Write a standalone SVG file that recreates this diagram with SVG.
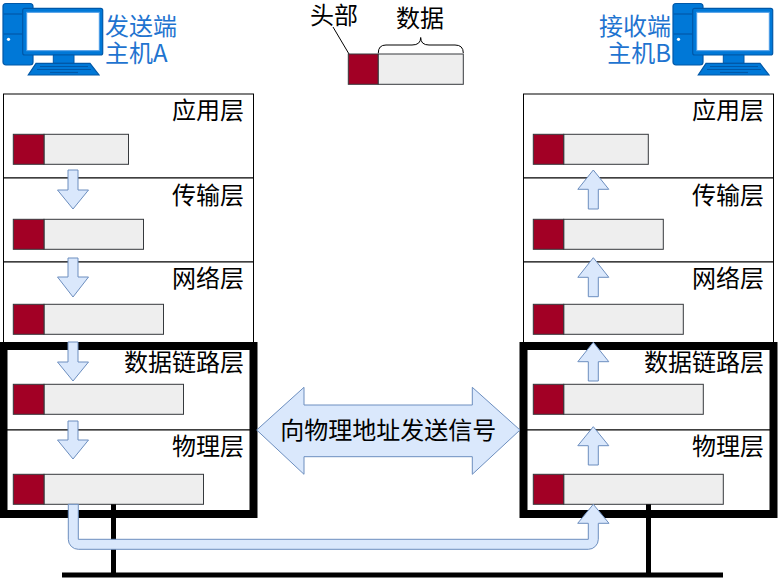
<svg xmlns="http://www.w3.org/2000/svg" xmlns:xlink="http://www.w3.org/1999/xlink" width="779" height="578" viewBox="0 0 779 578">
<style>
text{font-family:"Noto Sans CJK SC","Liberation Sans",sans-serif;font-size:24px;fill:#000}
.host{fill:#1f74d0}
.layer{fill:#fff;stroke:#000;stroke-width:1}
.frame{fill:none;stroke:#000;stroke-width:8}
.hd{fill:#a20025;stroke:#36393d;stroke-width:1}
.bd{fill:#eeeeee;stroke:#36393d;stroke-width:1}
.arr{fill:#dae8fc;stroke:#6c8ebf;stroke-width:1}
.bus{stroke:#000;stroke-width:5;fill:none}
.lbl{text-anchor:end}
</style>
<defs>
<g id="pc">
<rect x="3" y="3.5" width="30" height="61.5" rx="3" fill="#0078d7" stroke="#0058a8" stroke-width="1.2"/>
<line x1="3.5" y1="14" x2="22.5" y2="14" stroke="#0058a8" stroke-width="1.2"/>
<line x1="3.5" y1="34" x2="22.5" y2="34" stroke="#0058a8" stroke-width="1.2"/>
<circle cx="8.5" cy="39.3" r="1.6" fill="#fff"/>
<rect x="22.7" y="8.3" width="80" height="46.7" rx="2" fill="#0078d7" stroke="#0058a8" stroke-width="1.2"/>
<rect x="26.7" y="12.3" width="72.6" height="38.4" fill="#fff" stroke="#4a9be6" stroke-width="1"/>
<rect x="53.3" y="55" width="20.7" height="8.3" fill="#0078d7" stroke="#0058a8" stroke-width="1"/>
<polygon points="36,63.3 90,63.3 99,75 28.3,75" fill="#0078d7" stroke="#0058a8" stroke-width="1.2"/>
<line x1="40" y1="66.5" x2="88" y2="66.5" stroke="#0058a8" stroke-width="1.2"/>
<line x1="37" y1="69.5" x2="91" y2="69.5" stroke="#0058a8" stroke-width="1.2"/>
<line x1="50" y1="72.5" x2="78" y2="72.5" stroke="#0058a8" stroke-width="1.2"/>
</g>
</defs>

<g id="hostA">
<use xlink:href="#pc"/>
<text class="host" x="105" y="34.5">发送端</text>
<text class="host" x="105" y="62">主机A</text>
</g>
<g id="hostB">
<use xlink:href="#pc" transform="translate(670,0)"/>
<text class="host" x="671" y="34.5" text-anchor="end">接收端</text>
<text class="host" x="671" y="62" text-anchor="end">主机B</text>
</g>

<g id="legend">
<text x="310" y="24">头部</text>
<text x="420" y="27" text-anchor="middle">数据</text>
<line x1="333" y1="27" x2="349" y2="54" stroke="#000" stroke-width="1"/>
<path d="M378.3,53 Q378.3,45 386,45 L412,45 Q420.7,45 420.7,37.5 Q420.7,45 429,45 L455,45 Q463.3,45 463.3,53" fill="none" stroke="#000" stroke-width="1"/>
<rect class="hd" x="348.3" y="54" width="30" height="30.3"/>
<rect class="bd" x="378.3" y="54" width="85" height="30.3"/>
</g>

<g id="stackA">
<g id="a-app"><rect class="layer" x="3.5" y="94" width="250" height="84"/><text class="lbl" x="244" y="119">应用层</text></g>
<g id="a-tr"><rect class="layer" x="3.5" y="178" width="250" height="84"/><text class="lbl" x="244" y="204">传输层</text></g>
<g id="a-net"><rect class="layer" x="3.5" y="262" width="250" height="84"/><text class="lbl" x="244" y="287">网络层</text></g>
<g id="a-dl"><rect class="layer" x="3.5" y="346" width="250" height="84"/><text class="lbl" x="244" y="371">数据链路层</text></g>
<g id="a-ph"><rect class="layer" x="3.5" y="430" width="250" height="84"/><text class="lbl" x="244" y="455">物理层</text></g>
<rect class="frame" x="3.5" y="346" width="250" height="168"/>
<rect class="bd" x="44" y="134.3" width="84.5" height="30"/><rect class="hd" x="13.3" y="134.3" width="30.7" height="30"/>
<rect class="bd" x="44" y="219.3" width="99.5" height="30"/><rect class="hd" x="13.3" y="219.3" width="30.7" height="30"/>
<rect class="bd" x="44" y="304.3" width="119.5" height="30"/><rect class="hd" x="13.3" y="304.3" width="30.7" height="30"/>
<rect class="bd" x="44" y="384.3" width="139.5" height="30"/><rect class="hd" x="13.3" y="384.3" width="30.7" height="30"/>
<rect class="bd" x="44" y="474.3" width="159.5" height="30"/><rect class="hd" x="13.3" y="474.3" width="30.7" height="30"/>
</g>

<g id="stackB">
<g id="b-app"><rect class="layer" x="523.5" y="94" width="250" height="84"/><text class="lbl" x="764" y="119">应用层</text></g>
<g id="b-tr"><rect class="layer" x="523.5" y="178" width="250" height="84"/><text class="lbl" x="764" y="204">传输层</text></g>
<g id="b-net"><rect class="layer" x="523.5" y="262" width="250" height="84"/><text class="lbl" x="764" y="287">网络层</text></g>
<g id="b-dl"><rect class="layer" x="523.5" y="346" width="250" height="84"/><text class="lbl" x="764" y="371">数据链路层</text></g>
<g id="b-ph"><rect class="layer" x="523.5" y="430" width="250" height="84"/><text class="lbl" x="764" y="455">物理层</text></g>
<rect class="frame" x="523.5" y="346" width="250" height="168"/>
<rect class="bd" x="563.7" y="134.3" width="84.6" height="30"/><rect class="hd" x="533.3" y="134.3" width="30.4" height="30"/>
<rect class="bd" x="563.7" y="219.3" width="99.6" height="30"/><rect class="hd" x="533.3" y="219.3" width="30.4" height="30"/>
<rect class="bd" x="563.7" y="304.3" width="119.6" height="30"/><rect class="hd" x="533.3" y="304.3" width="30.4" height="30"/>
<rect class="bd" x="563.7" y="384.3" width="139.6" height="30"/><rect class="hd" x="533.3" y="384.3" width="30.4" height="30"/>
<rect class="bd" x="563.7" y="474.3" width="159.6" height="30"/><rect class="hd" x="533.3" y="474.3" width="30.4" height="30"/>
</g>

<g id="connectors">
<line class="bus" x1="62" y1="575" x2="723" y2="575"/>
<line class="bus" x1="113.5" y1="504.3" x2="113.5" y2="575"/>
<line class="bus" x1="648.5" y1="504.3" x2="648.5" y2="575"/>
<path class="arr" d="M68,170 H78 V190 H88.5 L73,209 L57.5,190 H68 Z"/>
<path class="arr" d="M68,258 H78 V277 H88.5 L73,297 L57.5,277 H68 Z"/>
<path class="arr" d="M68,342 H78 V362 H88.5 L73,381 L57.5,362 H68 Z"/>
<path class="arr" d="M68,421 H78 V440 H88.5 L73,459 L57.5,440 H68 Z"/>
<path class="arr" d="M593.3,170 L608.8,189.3 H598.3 V209 H588.3 V189.3 H577.8 Z"/>
<path class="arr" d="M593.3,257.7 L608.8,277.3 H598.3 V296.7 H588.3 V277.3 H577.8 Z"/>
<path class="arr" d="M593.3,342.3 L608.8,361.7 H598.3 V381 H588.3 V361.7 H577.8 Z"/>
<path class="arr" d="M593.3,426.7 L608.8,445.7 H598.3 V465 H588.3 V445.7 H577.8 Z"/>
<path class="arr" d="M68.3,504.3 V539.3 A10,10 0 0 0 78.3,549.3 H588.3 A10,10 0 0 0 598.3,539.3 V523.3 H609 L593.3,504.3 L577.7,523.3 H588.3 V539.3 H78.3 V504.3 Z"/>
<g id="signal">
<path class="arr" d="M256.7,430 L304,387.3 V405 H472.3 V387.3 L520,430 L472.3,474.3 V456.7 H304 V474.3 Z"/>
<text x="388.3" y="439" text-anchor="middle">向物理地址发送信号</text>
</g>
</g>
</svg>
